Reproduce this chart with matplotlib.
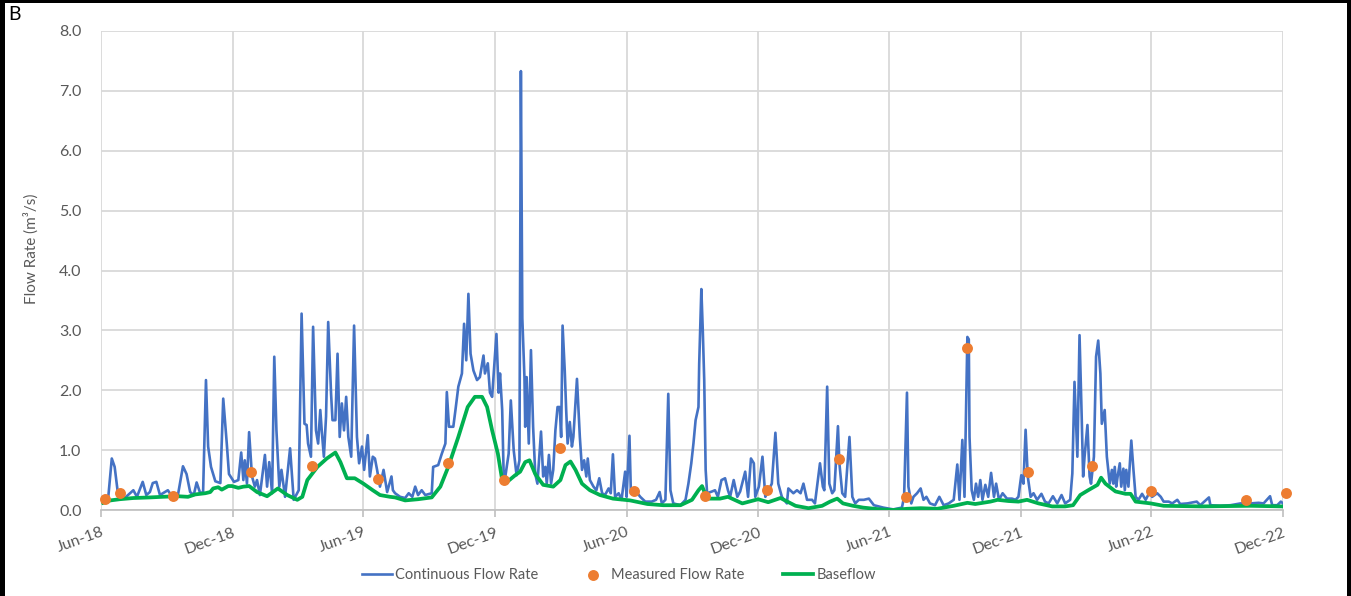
import matplotlib
matplotlib.use("Agg")
import matplotlib.pyplot as plt
from matplotlib.ticker import FuncFormatter
from matplotlib.patches import Rectangle
import pandas as pd

plt.rcParams['font.family'] = ['Lato', 'DejaVu Sans']

START = "2018-06-01"

# (days since 1 Jun 2018, flow m3/s)
continuous_flow = [
    (3, 0.17), (10, 0.20), (15, 0.86), (19, 0.72), (24, 0.23), (33, 0.20), (45, 0.33), (50, 0.22),
    (58, 0.47), (63, 0.25), (68, 0.30), (72, 0.45), (77, 0.47), (82, 0.25), (93, 0.33), (99, 0.22),
    (107, 0.25), (114, 0.73), (119, 0.60), (124, 0.30), (129, 0.25), (133, 0.46), (138, 0.28), (142, 0.30),
    (146, 2.17), (149, 1.06), (153, 0.72), (159, 0.48), (166, 0.45), (170, 1.86), (175, 1.10), (178, 0.60),
    (185, 0.47), (191, 0.50), (195, 0.96), (198, 0.50), (200, 0.83), (203, 0.44), (206, 1.30), (210, 0.56),
    (214, 0.39), (217, 0.50), (221, 0.25), (228, 0.92), (231, 0.39), (234, 0.80), (238, 0.28), (241, 2.56),
    (244, 1.33), (248, 0.39), (251, 0.67), (256, 0.22), (263, 1.03), (268, 0.17), (275, 0.33), (279, 3.28),
    (283, 1.44), (286, 1.42), (288, 1.11), (292, 0.89), (295, 3.06), (299, 1.33), (302, 1.11), (305, 1.67),
    (307, 1.33), (310, 0.89), (313, 1.56), (316, 3.14), (320, 1.94), (322, 1.50), (326, 1.50), (329, 2.61),
    (332, 1.22), (335, 1.78), (338, 1.33), (341, 1.89), (344, 1.22), (348, 0.89), (352, 3.08), (356, 1.22),
    (359, 0.78), (363, 1.06), (366, 0.67), (371, 1.25), (374, 0.56), (378, 0.89), (381, 0.86), (384, 0.67),
    (388, 0.39), (393, 0.67), (398, 0.30), (404, 0.56), (406, 0.33), (409, 0.28), (416, 0.22), (423, 0.20),
    (428, 0.28), (433, 0.22), (437, 0.39), (441, 0.25), (446, 0.33), (451, 0.25), (460, 0.28), (462, 0.72),
    (469, 0.75), (474, 0.94), (479, 1.11), (481, 1.97), (484, 1.39), (490, 1.39), (493, 1.67), (497, 2.06),
    (502, 2.28), (505, 3.11), (508, 2.50), (511, 3.61), (514, 2.61), (518, 2.33), (523, 2.17), (527, 2.22),
    (532, 2.58), (534, 2.28), (538, 2.45), (541, 1.96), (544, 1.89), (550, 2.94), (553, 1.96), (555, 2.28),
    (558, 1.67), (560, 0.61), (562, 0.53), (567, 0.94), (570, 1.83), (574, 1.00), (578, 0.58), (582, 0.83),
    (584, 7.33), (586, 3.20), (589, 2.20), (590, 1.39), (592, 2.22), (595, 1.11), (598, 2.67), (601, 1.39),
    (604, 0.60), (607, 0.44), (612, 1.31), (615, 0.56), (618, 0.72), (620, 0.44), (623, 0.92), (626, 0.44),
    (629, 0.67), (632, 1.33), (635, 1.72), (638, 1.72), (640, 1.22), (642, 3.08), (645, 2.33), (647, 1.67),
    (649, 1.11), (652, 1.47), (655, 1.06), (657, 1.22), (662, 2.19), (666, 1.22), (669, 0.67), (672, 0.83),
    (675, 0.56), (677, 0.86), (680, 0.50), (685, 0.39), (689, 0.33), (693, 0.53), (697, 0.28), (701, 0.25),
    (706, 0.36), (709, 0.28), (712, 0.93), (715, 0.22), (720, 0.28), (724, 0.17), (729, 0.64), (731, 0.22),
    (735, 1.24), (737, 0.28), (743, 0.33), (750, 0.22), (757, 0.14), (766, 0.14), (772, 0.17), (777, 0.30),
    (780, 0.11), (785, 0.17), (789, 1.94), (792, 0.33), (796, 0.11), (806, 0.08), (813, 0.17), (817, 0.44),
    (821, 0.78), (824, 1.11), (827, 1.50), (831, 1.72), (832, 2.44), (835, 3.69), (837, 3.00), (839, 2.17),
    (841, 0.67), (843, 0.28), (850, 0.31), (854, 0.33), (858, 0.22), (863, 0.50), (868, 0.53), (872, 0.33),
    (875, 0.22), (880, 0.50), (885, 0.22), (889, 0.31), (896, 0.64), (900, 0.22), (904, 0.86), (908, 0.78),
    (910, 0.22), (915, 0.39), (920, 0.89), (924, 0.22), (933, 0.44), (938, 1.29), (942, 0.44), (947, 0.22),
    (954, 0.11), (956, 0.36), (963, 0.28), (968, 0.33), (973, 0.28), (977, 0.44), (982, 0.17), (989, 0.17),
    (993, 0.11), (1000, 0.78), (1004, 0.39), (1006, 0.33), (1010, 2.06), (1013, 0.44), (1017, 0.28), (1020, 0.33),
    (1025, 1.40), (1027, 0.78), (1031, 0.28), (1035, 0.22), (1041, 1.22), (1045, 0.22), (1049, 0.11), (1054, 0.17),
    (1061, 0.17), (1068, 0.19), (1075, 0.08), (1088, 0.04), (1102, 0.01), (1114, 0.04), (1117, 0.22), (1121, 1.96),
    (1123, 0.39), (1127, 0.11), (1130, 0.22), (1135, 0.28), (1140, 0.36), (1144, 0.17), (1148, 0.22), (1153, 0.11),
    (1160, 0.08), (1166, 0.22), (1172, 0.08), (1179, 0.11), (1186, 0.17), (1191, 0.76), (1194, 0.17), (1198, 1.17),
    (1201, 0.22), (1205, 2.89), (1207, 2.85), (1208, 1.22), (1211, 0.33), (1214, 0.17), (1217, 0.44), (1220, 0.22),
    (1223, 0.50), (1226, 0.17), (1230, 0.42), (1234, 0.22), (1238, 0.62), (1242, 0.22), (1245, 0.44), (1249, 0.17),
    (1254, 0.28), (1260, 0.19), (1267, 0.19), (1272, 0.17), (1276, 0.22), (1280, 0.58), (1283, 0.44), (1286, 1.34),
    (1289, 0.56), (1293, 0.22), (1297, 0.28), (1302, 0.17), (1308, 0.27), (1313, 0.14), (1318, 0.11), (1324, 0.23),
    (1330, 0.11), (1336, 0.25), (1341, 0.11), (1348, 0.17), (1351, 0.61), (1354, 2.14), (1358, 0.89), (1361, 2.92),
    (1364, 1.56), (1366, 0.56), (1368, 0.89), (1372, 1.42), (1375, 0.56), (1377, 0.44), (1381, 0.89), (1384, 2.56),
    (1387, 2.83), (1390, 2.28), (1392, 1.44), (1396, 1.67), (1399, 0.89), (1403, 0.44), (1406, 0.67), (1408, 0.44),
    (1410, 0.72), (1412, 0.39), (1414, 0.56), (1417, 0.78), (1419, 0.39), (1422, 0.69), (1424, 0.33), (1426, 0.67),
    (1429, 0.39), (1433, 1.16), (1436, 0.67), (1439, 0.22), (1443, 0.17), (1448, 0.27), (1453, 0.17), (1459, 0.31),
    (1462, 0.22), (1469, 0.28), (1474, 0.22), (1478, 0.14), (1485, 0.14), (1490, 0.11), (1497, 0.17), (1501, 0.10),
    (1511, 0.11), (1524, 0.14), (1529, 0.08), (1541, 0.21), (1543, 0.08), (1557, 0.07), (1571, 0.08), (1585, 0.11),
    (1599, 0.11), (1610, 0.12), (1617, 0.11), (1626, 0.23), (1629, 0.08), (1636, 0.08), (1641, 0.14), (1645, 0.10),
]

baseflow = [
    (3, 0.12), (13, 0.16), (26, 0.18), (45, 0.20), (68, 0.21), (85, 0.22), (107, 0.23), (121, 0.22),
    (131, 0.26), (145, 0.28), (152, 0.30), (156, 0.36), (163, 0.38), (168, 0.34), (177, 0.40), (182, 0.40),
    (191, 0.37), (198, 0.39), (206, 0.40), (217, 0.30), (231, 0.23), (246, 0.36), (259, 0.25), (273, 0.17),
    (280, 0.22), (287, 0.50), (301, 0.72), (314, 0.86), (326, 0.96), (333, 0.80), (342, 0.53), (353, 0.53),
    (365, 0.44), (378, 0.33), (388, 0.25), (402, 0.22), (409, 0.21), (423, 0.16), (441, 0.18), (460, 0.21),
    (472, 0.39), (483, 0.72), (497, 1.22), (510, 1.72), (520, 1.89), (530, 1.89), (537, 1.72), (544, 1.33),
    (552, 0.94), (558, 0.50), (565, 0.47), (576, 0.58), (583, 0.64), (590, 0.80), (596, 0.83), (604, 0.60),
    (615, 0.42), (629, 0.39), (639, 0.50), (646, 0.75), (653, 0.81), (660, 0.67), (669, 0.44), (680, 0.33),
    (694, 0.25), (712, 0.19), (736, 0.16), (760, 0.10), (782, 0.08), (806, 0.08), (822, 0.17), (831, 0.33),
    (836, 0.40), (843, 0.19), (861, 0.19), (872, 0.22), (892, 0.11), (914, 0.18), (928, 0.13), (945, 0.20),
    (966, 0.07), (984, 0.03), (1003, 0.07), (1014, 0.14), (1024, 0.19), (1032, 0.11), (1046, 0.07), (1060, 0.04),
    (1084, 0.01), (1102, 0.00), (1121, 0.02), (1140, 0.03), (1163, 0.02), (1186, 0.07), (1205, 0.12), (1216, 0.10),
    (1237, 0.14), (1247, 0.17), (1262, 0.15), (1276, 0.14), (1288, 0.17), (1304, 0.11), (1323, 0.06), (1341, 0.06),
    (1352, 0.08), (1362, 0.25), (1373, 0.33), (1386, 0.42), (1391, 0.54), (1397, 0.44), (1411, 0.31), (1425, 0.27),
    (1432, 0.27), (1439, 0.14), (1460, 0.11), (1478, 0.07), (1530, 0.06), (1599, 0.07), (1644, 0.06),
]

measured_flow = [
    (5, 0.19), (26, 0.29), (100, 0.23), (209, 0.64), (293, 0.73), (385, 0.52), (482, 0.79), (560, 0.50),
    (639, 1.04), (742, 0.32), (840, 0.24), (926, 0.33), (1027, 0.86), (1119, 0.22), (1205, 2.71), (1289, 0.63),
    (1379, 0.73), (1460, 0.32), (1592, 0.16), (1648, 0.28),
]

tick_dates = ["2018-06-01", "2018-12-01", "2019-06-01", "2019-12-01", "2020-06-01",
              "2020-12-01", "2021-06-01", "2021-12-01", "2022-06-01", "2022-12-01"]
tick_labels = ["Jun-18", "Dec-18", "Jun-19", "Dec-19", "Jun-20",
               "Dec-20", "Jun-21", "Dec-21", "Jun-22", "Dec-22"]
y_ticks = [0, 1, 2, 3, 4, 5, 6, 7, 8]


def to_series(pairs):
    d = pd.Timestamp(START) + pd.to_timedelta([p[0] for p in pairs], unit="D")
    return d, [p[1] for p in pairs]


W, H = 1351, 596
fig = plt.figure(figsize=(W / 100, H / 100), dpi=100)
ax = fig.add_axes([101 / W, 1 - 510 / H, (1283 - 101) / W, (510 - 31) / H])

cx, cy = to_series(continuous_flow)
bx, by = to_series(baseflow)
mx, my = to_series(measured_flow)

ax.plot(cx, cy, color="#4472C4", lw=1.9, label="Continuous Flow Rate", zorder=3)
ax.plot(bx, by, color="#00B050", lw=2.7, label="Baseflow", zorder=4)
ax.scatter(mx, my, s=62, color="#ED7D31", label="Measured Flow Rate", zorder=5,
           clip_on=False, linewidths=0)

ax.set_xlim(pd.Timestamp("2018-06-01"), pd.Timestamp("2022-12-01"))
ax.set_ylim(0, 8)

grid_c = "#D9D9D9"
ax.set_xticks(pd.to_datetime(tick_dates))
ax.set_xticklabels(tick_labels, rotation=20, ha="right", rotation_mode="anchor")
ax.set_yticks(y_ticks)
ax.yaxis.set_major_formatter(FuncFormatter(lambda v, p: f"{v:.1f}"))
ax.grid(True, color=grid_c, lw=1.3)
ax.set_axisbelow(True)
for s in ["top", "right", "left"]:
    ax.spines[s].set_visible(False)
ax.spines["bottom"].set_color("#BFBFBF")
ax.spines["bottom"].set_linewidth(1.2)
ax.tick_params(axis="x", colors="#595959", labelsize=11.5, length=5, width=1.2,
               color="#BFBFBF", pad=6)
ax.tick_params(axis="y", colors="#595959", labelsize=11.5, length=0, pad=14)

ax.set_ylabel("Flow Rate (m³/s)", fontsize=11, color="#595959")
ax.yaxis.set_label_coords((39 - 101) / (1283 - 101), (510 - 249) / (510 - 31))

handles, labels = ax.get_legend_handles_labels()
order = [labels.index("Continuous Flow Rate"), labels.index("Measured Flow Rate"), labels.index("Baseflow")]
leg = fig.legend([handles[i] for i in order], [labels[i] for i in order],
                 loc="center", bbox_to_anchor=(619 / W, 1 - 575 / H), ncol=3,
                 frameon=False, handlelength=2.05, handletextpad=0.2,
                 columnspacing=2.7, labelcolor="#595959", fontsize=10.5,
                 borderpad=0.2)

fig.text(8 / W, 1 - 14 / H, "B", fontsize=14, va="center", ha="left", color="black")
# black frame (top, left, right)
fig.patches.append(Rectangle((0, 1 - 3 / H), 1, 3 / H, transform=fig.transFigure,
                             facecolor="black", edgecolor="none", zorder=10))
fig.patches.append(Rectangle((0, 0), 5 / W, 1, transform=fig.transFigure,
                             facecolor="black", edgecolor="none", zorder=10))
fig.patches.append(Rectangle((1 - 4 / W, 0), 4 / W, 1, transform=fig.transFigure,
                             facecolor="black", edgecolor="none", zorder=10))

fig.savefig("out.png", dpi=100)
